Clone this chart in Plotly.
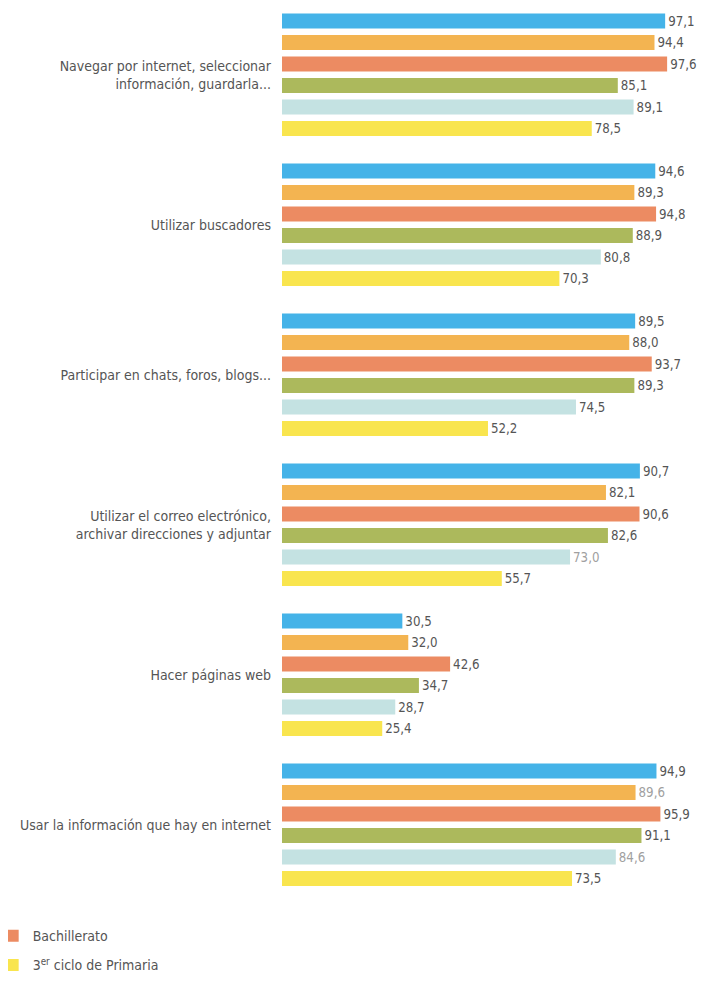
import plotly.graph_objects as go

categories = [
    "Navegar por internet, seleccionar<br>información, guardarla...",
    "Utilizar buscadores",
    "Participar en chats, foros, blogs...",
    "Utilizar el correo electrónico,<br>archivar direcciones y adjuntar",
    "Hacer páginas web",
    "Usar la información que hay en internet",
]

series_names = [
    "1er ciclo de ESO",
    "2º ciclo de ESO",
    "Bachillerato",
    "Ciclos formativos",
    "2º ciclo de Primaria",
    "3<sup>er</sup> ciclo de Primaria",
]

azul = [97.1, 94.6, 89.5, 90.7, 30.5, 94.9]
naranja = [94.4, 89.3, 88.0, 82.1, 32.0, 89.6]
bachillerato = [97.6, 94.8, 93.7, 90.6, 42.6, 95.9]
oliva = [85.1, 88.9, 89.3, 82.6, 34.7, 91.1]
turquesa = [89.1, 80.8, 74.5, 73.0, 28.7, 84.6]
primaria = [78.5, 70.3, 52.2, 55.7, 25.4, 73.5]

colors = ["#45b3e8", "#f3b451", "#ec8b62", "#acb95c", "#c4e2e2", "#f9e54e"]
shown = [False, False, True, False, False, True]

# some labels are printed in a paler grey in the original
dark, pale = "#555555", "#a0a0a0"
label_colors = [
    [dark] * 6,
    [dark, dark, dark, dark, dark, pale],
    [dark] * 6,
    [dark] * 6,
    [dark, dark, dark, pale, dark, pale],
    [dark] * 6,
]

FONT = "DejaVu Sans Condensed, Liberation Sans Narrow, Roboto, sans-serif"

fig = go.Figure()
for i, vals in enumerate([azul, naranja, bachillerato, oliva, turquesa, primaria]):
    fig.add_trace(go.Bar(
        y=categories, x=vals, orientation="h", name=series_names[i],
        marker=dict(color=colors[i], line=dict(width=0)),
        text=vals, texttemplate="%{x:.1f}", textposition="outside",
        textfont=dict(size=14, color=label_colors[i]),
        cliponaxis=False, showlegend=shown[i], legendgroup=str(i),
    ))

fig.update_layout(
    width=697, height=976,
    margin=dict(l=274, r=0, t=0, b=76, autoexpand=False),
    barmode="group", bargap=0.14, bargroupgap=0.3,
    separators=",.",
    plot_bgcolor="white", paper_bgcolor="white",
    font=dict(family=FONT, size=14, color="#555555"),
    legend=dict(x=-0.684, y=-0.0135, xanchor="left", yanchor="top",
                traceorder="grouped", tracegroupgap=8,
                font=dict(size=14, color="#555555"),
                bgcolor="rgba(0,0,0,0)"),
)
fig.update_xaxes(range=[0, 107.2], visible=False)
fig.update_yaxes(range=[5.555, -0.445], showline=False, ticks="", ticklabelstandoff=10,
                 tickfont=dict(size=14, color="#555555"))

fig.write_html("out.html")
